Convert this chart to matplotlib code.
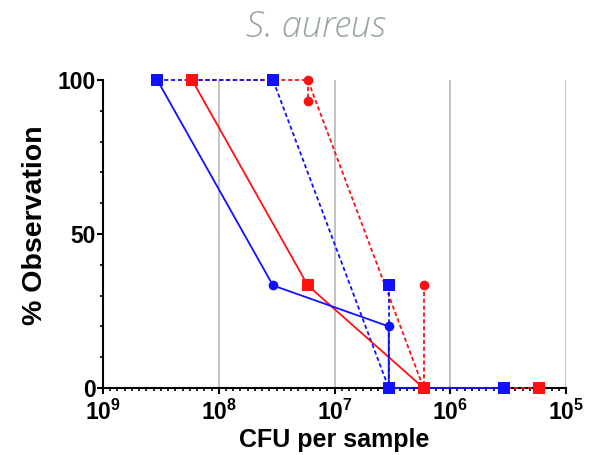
import numpy as np
import matplotlib
matplotlib.use("Agg")
import matplotlib.pyplot as plt
from matplotlib.ticker import FixedLocator, MultipleLocator, NullFormatter

plt.rcParams["font.family"] = ["Liberation Sans", "DejaVu Sans"]
plt.rcParams["mathtext.fontset"] = "custom"
plt.rcParams["mathtext.rm"] = "Liberation Sans"
plt.rcParams["mathtext.bf"] = "Liberation Sans:bold"

# dilution steps (CFU per sample)
blue_steps = [3.4e8, 3.4e7, 3.4e6, 3.4e5]
red_steps = [1.7e8, 1.7e7, 1.7e6, 1.7e5]

# connecting lines, % observation
blue_solid_x = [3.4e8, 3.4e7, 3.4e6, 3.4e6, 3.4e5]
blue_solid_y = [100, 33.3, 20, 0, 0]
blue_dash_x = [3.4e8, 3.4e7, 3.4e6]
blue_dash_y = [100, 100, 0]
blue_drop_x = [3.4e6, 3.4e6]
blue_drop_y = [33.3, 0]

red_solid_x = [1.7e8, 1.7e7, 1.7e6]
red_solid_y = [100, 33.3, 0]
red_dash_x = [1.7e8, 1.7e7, 1.7e6, 1.7e5]
red_dash_y = [100, 100, 0, 0]
red_drop1_x = [1.7e7, 1.7e7]
red_drop1_y = [100, 93.3]
red_drop2_x = [1.7e6, 1.7e6]
red_drop2_y = [33.3, 0]

# plotted points
blue_sq_x = [3.4e8, 3.4e7, 3.4e6, 3.4e6, 3.4e5]
blue_sq_y = [100, 100, 33.3, 0, 0]
blue_ci_x = [3.4e7, 3.4e6]
blue_ci_y = [33.3, 20]
red_sq_x = [1.7e8, 1.7e7, 1.7e6, 1.7e5]
red_sq_y = [100, 33.3, 0, 0]
red_ci_x = [1.7e7, 1.7e7, 1.7e6]
red_ci_y = [100, 93.3, 33.3]

x_ticks = [1e9, 1e8, 1e7, 1e6, 1e5]
x_labels = [r"$\mathbf{10^{9}}$", r"$\mathbf{10^{8}}$", r"$\mathbf{10^{7}}$",
            r"$\mathbf{10^{6}}$", r"$\mathbf{10^{5}}$"]
y_ticks = [0, 50, 100]

BLUE = "#1010ff"
RED = "#ff1010"
DASH = (0, (2.3, 1.5))

fig = plt.figure(figsize=(5.99, 4.55), dpi=100)
ax = fig.add_axes([103 / 599, 67 / 455, 463 / 599, 308 / 455])

lw = 1.3
ax.plot(red_dash_x, red_dash_y, color=RED, lw=lw, ls=DASH, clip_on=False, zorder=3)
ax.plot(red_drop1_x, red_drop1_y, color=RED, lw=lw, ls=DASH, clip_on=False, zorder=3)
ax.plot(red_drop2_x, red_drop2_y, color=RED, lw=lw, ls=DASH, clip_on=False, zorder=3)
ax.plot(blue_dash_x, blue_dash_y, color=BLUE, lw=lw, ls=DASH, clip_on=False, zorder=3)
ax.plot(blue_drop_x, blue_drop_y, color=BLUE, lw=lw, ls=DASH, clip_on=False, zorder=3)
ax.plot(red_solid_x, red_solid_y, color=RED, lw=lw, clip_on=False, zorder=4)
ax.plot(blue_solid_x, blue_solid_y, color=BLUE, lw=lw, clip_on=False, zorder=4)

ax.plot(red_ci_x, red_ci_y, "o", color=RED, ms=7, mew=0, clip_on=False, zorder=5)
ax.plot(red_sq_x, red_sq_y, "s", color=RED, ms=8.5, mew=0, clip_on=False, zorder=5)
ax.plot(blue_ci_x, blue_ci_y, "o", color=BLUE, ms=7, mew=0, clip_on=False, zorder=6)
ax.plot(blue_sq_x, blue_sq_y, "s", color=BLUE, ms=8.5, mew=0, clip_on=False, zorder=6)

ax.set_xscale("log")
ax.set_xlim(1e9, 1e5)
ax.set_ylim(0, 100)

ax.xaxis.set_major_locator(FixedLocator(x_ticks))
ax.set_xticklabels(x_labels)
ax.xaxis.set_minor_locator(FixedLocator(10 ** (5 + np.arange(1, 64) / 16)))
ax.xaxis.set_minor_formatter(NullFormatter())
ax.set_yticks(y_ticks)
ax.yaxis.set_minor_locator(MultipleLocator(10))

ax.grid(axis="x", which="major", color="#b8b8b8", lw=1.2, zorder=0)
ax.set_axisbelow(True)

for side in ["top", "right"]:
    ax.spines[side].set_visible(False)
for side in ["left", "bottom"]:
    ax.spines[side].set_linewidth(1.5)

ax.tick_params(axis="both", which="major", width=1.5, length=4.5, labelsize=16.5)
ax.tick_params(axis="both", which="minor", width=1.2, length=2.5)
ax.tick_params(axis="x", which="major", pad=4)
ax.tick_params(axis="y", which="major", pad=0.5)
for lab in ax.get_yticklabels():
    lab.set_fontweight("bold")

ax.set_xlabel("CFU per sample", fontsize=18, fontweight="bold", labelpad=2)
ax.set_ylabel("% Observation", fontsize=20.5, fontweight="bold")
ax.yaxis.set_label_coords(-0.118, 0.53)

fig.text(316 / 599, 1 - 27 / 455, "S. aureus", ha="center", va="center",
         fontsize=26, style="italic", fontweight="light",
         family=["Open Sans", "DejaVu Sans"], color="#97a6a3")

fig.savefig("out.png", dpi=100)
